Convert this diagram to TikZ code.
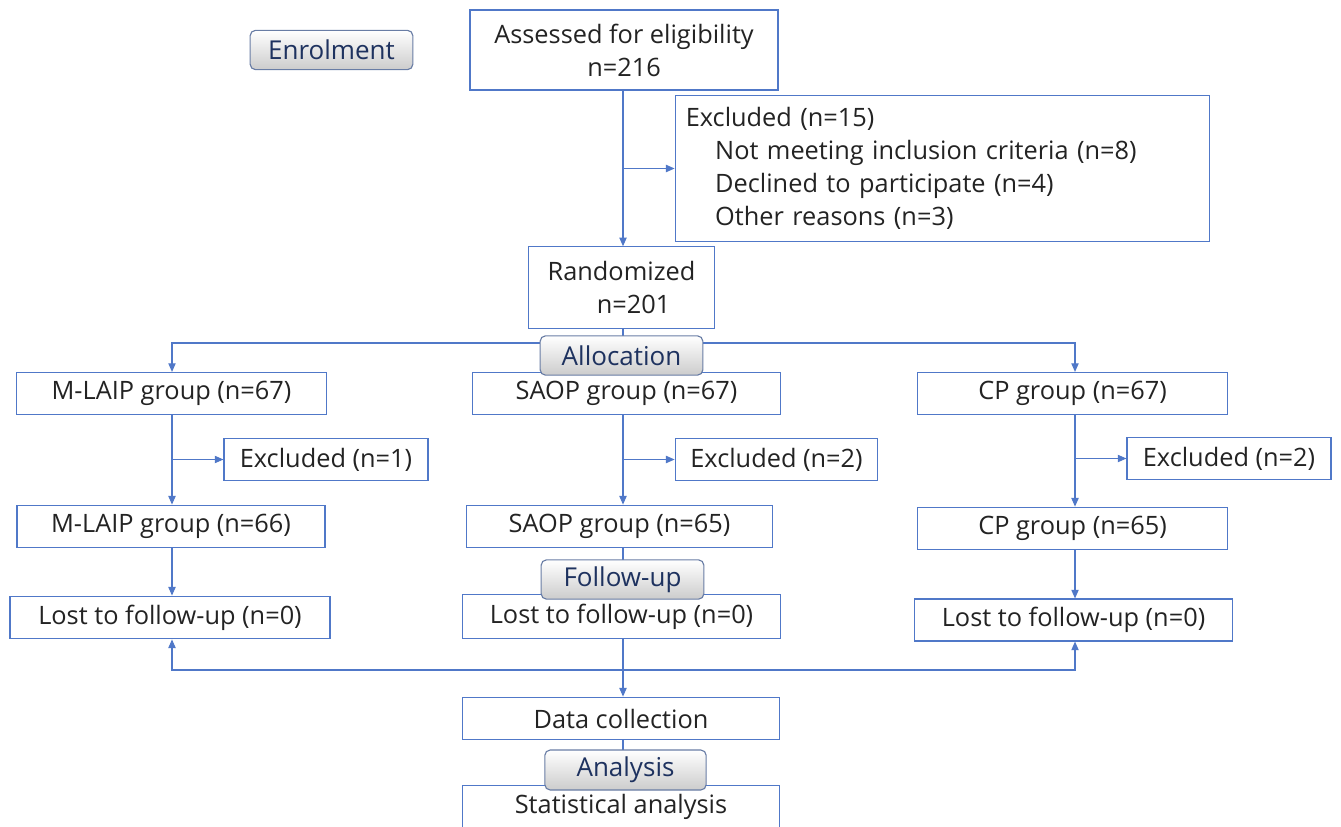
\documentclass[tikz,border=0pt]{standalone}
\usepackage{fontspec}
\setmainfont{Open Sans}
\usetikzlibrary{arrows.meta,calc,positioning,shadings}
\definecolor{lineblue}{RGB}{80,120,200}
\definecolor{navy}{RGB}{30,50,95}
\definecolor{tabedge}{RGB}{105,125,165}
\definecolor{txt}{RGB}{35,35,35}
\begin{document}
\begin{tikzpicture}[x=0.75pt,y=-0.75pt,>={Triangle[length=6.5pt,width=5.5pt]},
  box/.style={draw=lineblue,line width=0.85pt,fill=white,text=txt,inner sep=0pt,font=\fontsize{19}{24.75}\selectfont},
  tab/.style={draw=tabedge,line width=0.85pt,rounded corners=4pt,top color=white,bottom color=black!20,text=navy,
    minimum width=122pt,minimum height=29.5pt,inner sep=0pt,font=\fontsize{19.5}{22}\selectfont},
  link/.style={draw=lineblue,line width=0.8pt}]
\useasboundingbox (0,0) rectangle (1341,827);
\clip (0,0) rectangle (1341,827);
% columns
\coordinate (c1) at (172,0); \coordinate (c2) at (623,0); \coordinate (c3) at (1075,0);
% enrolment
\node[box,minimum width=231pt,minimum height=60pt,align=center] (assess) at (624,50) {Assessed for eligibility\\n=216};
\node[box,minimum width=401pt,minimum height=109pt,align=left,text width=385pt,inner xsep=8pt] (excl) at (942.5,168.5)
  {Excluded (n=15)\\\hspace*{22pt}Not meeting inclusion criteria (n=8)\\\hspace*{22pt}Declined to participate (n=4)\\\hspace*{22pt}Other reasons (n=3)};
\node[box,minimum width=139pt,minimum height=61pt,align=center] (rand) at (621.5,287.5) {Randomized\\\hspace*{18pt}n=201};
% allocation
\node[box,minimum width=232pt,minimum height=31.5pt] (grpA) at (171.5,393.5) {M-LAIP group (n=67)};
\node[box,minimum width=231pt,minimum height=31.5pt] (grpB) at (626.5,393.5) {SAOP group (n=67)};
\node[box,minimum width=232pt,minimum height=31.5pt] (grpC) at (1072.5,393.5) {CP group (n=67)};
\node[box,minimum width=153pt,minimum height=32pt] (exA) at (326,459.5) {Excluded (n=1)};
\node[box,minimum width=152pt,minimum height=32pt] (exB) at (776.5,459.5) {Excluded (n=2)};
\node[box,minimum width=153pt,minimum height=32pt] (exC) at (1229,458.5) {Excluded (n=2)};
\node[box,minimum width=231pt,minimum height=32pt] (grpA2) at (171,526.5) {M-LAIP group (n=66)};
\node[box,minimum width=230pt,minimum height=32pt] (grpB2) at (619.5,526.5) {SAOP group (n=65)};
\node[box,minimum width=232pt,minimum height=32pt] (grpC2) at (1072.5,528.5) {CP group (n=65)};
% follow-up
\node[box,minimum width=240pt,minimum height=32pt] (lostA) at (170,617.5) {Lost to follow-up (n=0)};
\node[box,minimum width=238pt,minimum height=33pt] (lostB) at (621.5,616.5) {Lost to follow-up (n=0)};
\node[box,minimum width=239pt,minimum height=31.5pt] (lostC) at (1073.5,620) {Lost to follow-up (n=0)};
% analysis
\node[box,minimum width=238pt,minimum height=32pt] (data) at (621,718.5) {Data collection};
\node[box,minimum width=238pt,minimum height=32pt] (stat) at (621,806.5) {Statistical analysis};
% connectors
\draw[link,->] (assess.south -| c2) -- (rand.north -| c2);
\draw[link,->] (excl.west -| c2) -- (excl.west);
\coordinate (split) at (623,343);
\draw[link] (rand.south -| c2) -- (split) -- (grpB.north -| c2);
\draw[link,->] (split) -| (grpA.north -| c1);
\draw[link,->] (split) -| (grpC.north -| c3);
\draw[link,->] (grpA.south -| c1) -- (grpA2.north -| c1);
\draw[link,->] (grpB.south -| c2) -- (grpB2.north -| c2);
\draw[link,->] (grpC.south -| c3) -- (grpC2.north -| c3);
\draw[link,->] (exA.west -| c1) -- (exA.west);
\draw[link,->] (exB.west -| c2) -- (exB.west);
\draw[link,->] (exC.west -| c3) -- (exC.west);
\draw[link,->] (grpA2.south -| c1) -- (lostA.north -| c1);
\draw[link] (grpB2.south -| c2) -- (lostB.north -| c2);
\draw[link,->] (grpC2.south -| c3) -- (lostC.north -| c3);
\coordinate (merge) at (623,670);
\draw[link,->] (lostB.south -| c2) -- (data.north -| c2);
\draw[link,->] (merge) -| (lostA.south -| c1);
\draw[link,->] (merge) -| (lostC.south -| c3);
\draw[link] (data.south -| c2) -- (stat.north -| c2);
% stage tabs
\node[tab] (enrol) at (331.5,50) {Enrolment};
\node[tab] (alloc) at (621.5,355.5) {Allocation};
\node[tab] (follow) at (622.5,579.5) {Follow-up};
\node[tab,minimum width=121pt,minimum height=30pt] (analys) at (625.5,770) {Analysis};
\end{tikzpicture}
\end{document}
